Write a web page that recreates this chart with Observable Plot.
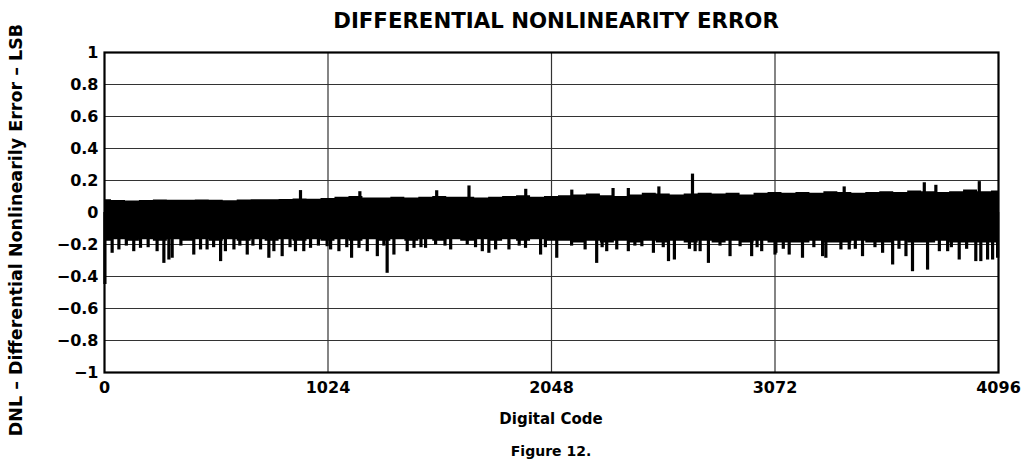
<!DOCTYPE html>
<html>
<head>
<meta charset="utf-8">
<script src="https://cdn.jsdelivr.net/npm/d3@7"></script>
<script src="https://cdn.jsdelivr.net/npm/@observablehq/plot@0.6"></script>
<style>
  html, body { margin: 0; padding: 0; background: #fff; }
  #wrap { position: relative; width: 1025px; height: 469px; overflow: hidden; font-family: "DejaVu Sans", sans-serif; font-weight: bold; color: #000; }
  .lbl { position: absolute; white-space: nowrap; transform: translate(-50%, -50%); }
  #title { left: 556px; top: 20px; font-size: 21.3px; }
  #ylab { left: 16px; top: 230px; font-size: 17.5px; transform: translate(-50%, -50%) rotate(-90deg); }
  #xlab { left: 551px; top: 419px; font-size: 15px; }
  #cap { left: 551px; top: 451px; font-size: 14px; }
  #chart { position: absolute; left: 0; top: 0; }
</style>
</head>
<body>
<div id="wrap">
  <div id="chart"></div>
  <div id="title" class="lbl">DIFFERENTIAL NONLINEARITY ERROR</div>
  <div id="ylab" class="lbl">DNL – Differential Nonlinearily Error – LSB</div>
  <div id="xlab" class="lbl">Digital Code</div>
  <div id="cap" class="lbl">Figure 12.</div>
</div>
<script>
// ---- Data ----
const xTicks = [0, 1024, 2048, 3072, 4096];
const xGrid = [1024, 2048, 3072];
const yTicks = [-1, -0.8, -0.6, -0.4, -0.2, 0, 0.2, 0.4, 0.6, 0.8, 1];

// Upper edge of the dense DNL band (every 64 codes)
const bandCodes = [0,64,128,192,256,320,384,448,512,576,640,704,768,832,896,960,1024,
  1088,1152,1216,1280,1344,1408,1472,1536,1600,1664,1728,1792,1856,1920,1984,2048,
  2112,2176,2240,2304,2368,2432,2496,2560,2624,2688,2752,2816,2880,2944,3008,3072,
  3136,3200,3264,3328,3392,3456,3520,3584,3648,3712,3776,3840,3904,3968,4032,4096];
const bandHigh = [0.08,0.075,0.072,0.075,0.078,0.077,0.076,0.078,0.076,0.074,0.078,0.08,0.079,0.082,0.085,0.083,0.088,
  0.095,0.1,0.09,0.09,0.095,0.09,0.095,0.1,0.095,0.095,0.09,0.095,0.1,0.105,0.095,0.1,
  0.105,0.11,0.115,0.105,0.1,0.11,0.12,0.115,0.11,0.115,0.12,0.115,0.12,0.11,0.12,0.125,
  0.12,0.125,0.12,0.13,0.125,0.12,0.125,0.13,0.125,0.135,0.13,0.125,0.13,0.14,0.13,0.135];
// Lower edge of the dense band (every 64 codes)
const bandLow = [-0.18,-0.17,-0.18,-0.17,-0.18,-0.17,-0.18,-0.17,-0.18,-0.17,-0.18,-0.17,-0.18,-0.17,-0.18,-0.17,-0.18,
  -0.17,-0.18,-0.17,-0.18,-0.17,-0.18,-0.17,-0.18,-0.17,-0.18,-0.17,-0.18,-0.17,-0.18,-0.17,-0.18,
  -0.18,-0.19,-0.18,-0.19,-0.18,-0.19,-0.18,-0.19,-0.18,-0.19,-0.18,-0.19,-0.18,-0.19,-0.18,-0.19,
  -0.19,-0.19,-0.18,-0.19,-0.19,-0.18,-0.19,-0.19,-0.18,-0.19,-0.19,-0.18,-0.19,-0.19,-0.19,-0.19];

// Individual spikes (code, DNL in LSB)
const spikeCodes = [2,35,66,134,165,241,272,295,310,409,440,470,532,554,593,654,715,753,776,814,875,913,944,1020,
  1036,1074,1132,1166,1204,1250,1295,1326,1387,1418,1471,1517,1586,1662,1731,1761,1792,1853,1929,1998,
  2072,2202,2255,2301,2347,2400,2462,2515,2584,2611,2706,2729,2767,2866,2912,2965,3011,3072,
  3076,3137,3198,3290,3305,3374,3412,3473,3565,3611,3672,3702,3771,3825,3863,3916,3992,4015,4046,4069,4092,
  100,200,350,500,620,680,850,980,1110,1280,1450,1560,1700,1900,2020,2140,2280,2430,2560,2680,2820,2990,3110,3250,3440,3530,3640,3880,3950,
  898,1170,1522,1670,1930,2141,2330,2400,2540,2694,3389,3756,3809,4008];
const spikeValues = [-0.45,-0.255,-0.234,-0.245,-0.224,-0.245,-0.318,-0.297,-0.286,-0.266,-0.234,-0.234,-0.307,-0.245,-0.234,-0.266,-0.234,-0.286,-0.245,-0.276,-0.245,-0.245,-0.224,-0.214,
  -0.234,-0.245,-0.286,-0.224,-0.245,-0.276,-0.38,-0.266,-0.245,-0.224,-0.224,-0.203,-0.234,-0.203,-0.245,-0.255,-0.234,-0.234,-0.224,-0.266,
  -0.286,-0.234,-0.318,-0.245,-0.234,-0.245,-0.214,-0.255,-0.307,-0.297,-0.245,-0.245,-0.318,-0.276,-0.214,-0.276,-0.245,-0.266,
  -0.255,-0.266,-0.286,-0.276,-0.286,-0.234,-0.234,-0.276,-0.255,-0.328,-0.276,-0.37,-0.36,-0.245,-0.245,-0.297,-0.307,-0.307,-0.297,-0.297,-0.286,
  -0.21,-0.22,-0.21,-0.22,-0.21,-0.21,-0.22,-0.21,-0.22,-0.21,-0.22,-0.21,-0.22,-0.21,-0.22,-0.21,-0.22,-0.21,-0.22,-0.23,-0.21,-0.22,-0.23,-0.22,-0.23,-0.22,-0.23,-0.22,-0.23,
  0.137,0.13,0.136,0.166,0.145,0.14,0.15,0.15,0.16,0.24,0.16,0.186,0.17,0.193];

// ---- Build tables ----
const band = bandCodes.map((c, i) => ({code: c, hi: bandHigh[i], lo: bandLow[i]}));
const spikes = spikeCodes.map((c, i) => ({code: c, v: spikeValues[i]}));
const fmt = d => d === 0 ? "0" : (d < 0 ? "\u2212" : "") + String(Math.abs(d));

const chart = Plot.plot({
  width: 1025,
  height: 469,
  marginTop: 52,
  marginBottom: 97,
  marginLeft: 104,
  marginRight: 27,
  style: {fontFamily: "'DejaVu Sans', sans-serif", fontWeight: "bold", fontSize: "16px", color: "#000", background: "#fff"},
  x: {domain: [0, 4096], ticks: xTicks, tickFormat: d => String(d), tickSize: 0, tickPadding: 9, label: null},
  y: {domain: [-1, 1], ticks: yTicks, tickFormat: fmt, tickSize: 0, tickPadding: 6, label: null},
  marks: [
    Plot.ruleY(yTicks, {stroke: "#333", strokeWidth: 1.2}),
    Plot.ruleX(xGrid, {stroke: "#333", strokeWidth: 1.2}),
    Plot.areaY(band, {x: "code", y1: "lo", y2: "hi", fill: "#000", curve: "step"}),
    Plot.ruleX(spikes, {x: "code", y1: 0, y2: "v", stroke: "#000", strokeWidth: 3.2}),
    Plot.frame({stroke: "#000", strokeWidth: 2.2})
  ]
});
document.getElementById("chart").appendChild(chart);
</script>
</body>
</html>
